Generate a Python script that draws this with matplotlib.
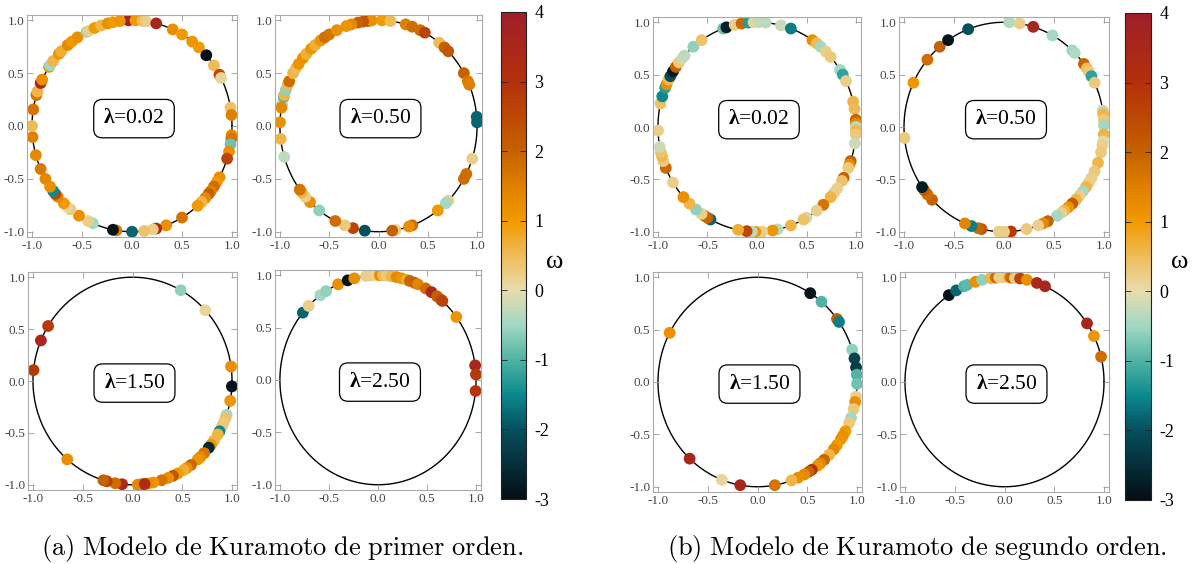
import matplotlib
matplotlib.use('Agg')
import matplotlib.pyplot as plt
import numpy as np
from matplotlib.colors import LinearSegmentedColormap, Normalize

plt.rcParams['axes.unicode_minus'] = False
plt.rcParams['mathtext.fontset'] = 'custom'
plt.rcParams['mathtext.rm'] = 'Liberation Serif'
plt.rcParams['mathtext.bf'] = 'Liberation Serif:bold'

# angles (deg) and natural frequencies omega for each panel
# (a) first order
a1_ang = [92, 88, 84, 82, 76, 66, 60, 53, 48, 42, 35, 29, 27, 10, 6, -5, -7, -10, -14, -18,
          -29, -32, -35, -38, -40, -43, -46, -49, -60, -70, -76, -78, -83, -90, -99, -101,
          -113, -116, -122, -128, -130, -133, -138, -140, -142, -145, -150, -156, -164, -174,
          180, 171, 163, 161, 156, 154, 146, 145, 142, 137, 135, 130, 127, 123, 117, 116,
          112, 108, 104, 101, 97]
a1_w = [3.8, 1, 0.5, 0.2, 3.6, 1.2, 1, 1.1, 1, -3, 0.5, 2.5, 0.1, 0.4, 1.5, 1.3, 1.7, -0.8, 1.2, 2.6,
        1.2, 1, 1.8, 1.5, 2, 1.3, 0.6, 1, 1.7, 1.2, 3.3, 0.2, 0.4, -1.8, 1.6, -2.9,
        -0.5, 0.2, 1.2, 0.3, 0.1, 1, 1.3, 2.5, -1.5, 1.2, 1.3, 1.6, 1.3, 1.5,
        0.5, 1.7, 1.7, 0.6, 3.5, 1.2, 1.2, -0.5, 0.6, 1.1, 0.7, 1.3, 1, 1.2, -0.6, 0.2,
        1, 0.6, 1.2, 1, 1.1]

a2_ang = [96, 94, 99, 102, 106, 109, 88, 83, 74, 70, 65, 62, 52, 48, 45, 30, 25, 23, 5, 2,
          -18, -27, -30, -45, -47, -53, -70, -72, -80, -82, -98, -105, -110, -116, -127, -134,
          -138, -141, -143, -163, -173, 178, 168, 170, 164, 163, 160, 157, 155, 150, 147, 144,
          140, 137, 133, 130, 126, 123, 120, 115]
a2_w = [3.3, 1.2, 2.2, 2, 1.3, 1.1, 1, 0.5, 1.5, 1.8, 1.8, 2.6, 0.5, 2, 2.2, 2, 1.6, 1.5, -1.8, -1.8,
        0.2, 1.8, 1.8, 0.2, -0.5, 1, 1.8, 1.2, 0.2, 2, -2, 2.6, 0.3, 1.8, -0.6, 1.2,
        0.2, 0.6, 1.7, -0.3, 0.6, 1.2, -0.3, 1.3, -1.0, 0.6, -0.6, 0.5, 1.8, 0.6, 0.5, 1.1,
        1.2, 0.7, 1.1, 0.7, 1.1, 1.8, 1.7, 1.2]

a3_ang = [61, 43, 8, -3, -11, -19, -21, -24, -26, -29, -31, -35, -38, -40, -44, -47, -49, -54,
          -57, -59, -63, -66, -69, -73, -78, -81, -84, -85, -87, -83, -96, -100, -105, -107,
          -131, 174, 157, 148]
a3_w = [-0.6, 0.1, 1.2, -2.9, 1.1, -0.5, 0.4, 0.3, 0.3, -1.5, 0.6, 0.6, 1.1, -2.6, 1.7, 1.3, 1.1, 1.9,
        1.2, 0.7, 1.0, 2.2, 1.2, 1.7, 1.1, 1.2, 1.0, 1.8, 1.3, 3.3, 3.4, 1.8, 2.7, 2.0,
        1.2, 2.8, 3.5, 2.8]

a4_ang = [140, 135, 126, 122, 114, 108, 104, 97, 94, 91, 89, 87, 85, 82, 79, 76, 73, 71, 68, 66,
          61, 57, 53, 50, 49, 37, 8, 3, -6]
a4_w = [-1.8, 0.2, -0.5, -0.6, 1.2, -2.9, 1.2, 0.2, 0.2, 0.1, 1.2, 0.5, 0.3, 0.6, 1.3, 1.1, 0.7, 1.9, 2, 1.4,
        1.8, 3.4, 2.0, 2.3, 2.6, 1.1, 3.5, 2.8, 2.9]

# (b) second order
b1_ang = [110, 108, 103, 99, 95, 92, 89, 85, 76, 70, 56, 53, 50, 46, 42, 33, 30, 26, 14, 10, 4, 2, 0,
          -2, -4, -9, -19, -21, -23, -29, -31, -36, -39, -42, -48, -53, -60, -62, -70, -78, -81,
          -87, -91, -93, -95, -96, -101, -118, -120, -122, -124, -128, -133, -138, -148, -157,
          -161, -164, -166, -169, -178, 167, 163, 158, 156, 153, 151, 148, 145, 142, 139, 137,
          130, 124]
b1_w = [-0.8, -2.7, 0.2, 1.9, -1.3, 0.1, -0.3, -0.3, -0.2, -1.6, 1.2, 0.5, -0.5, 0.2, 0.3, -0.5, -1.2, 0.2,
        0.6, 0.5, 2.0, 1.3, -0.3, 0.6, 0.3, -0.2, 2, 1.3, 0.3, 2, 0.4, 0.2, 0.2, 0.6, 1.7, 0.2, -0.2,
        0.4, 0.6, -0.4, 1.1, 0.2, 1.1, -0.3, -0.4, 2.5, 0.7, -1.8, 2, 1.9, 0.2, -0.6, 0.6, 1.2, 0.2,
        1.9, 0.3, 0.6, 0.4, -0.2, 0.2, 0.4, -1.5, -1.3, 1.2, 0.5, -2.0, -2.8, 2, 0.3, -0.2, -0.3,
        -0.6, 0.4]

b2_ang = [87, 81, 73, 61, 47, 45, 37, 34, 32, 29, 25, 9, 7, 4, 1, -4, -8, -10, -14, -20, -25, -29,
          -32, -35, -38, -41, -44, -47, -50, -53, -55, -58, -64, -67, -70, -77, -86, -90, -93,
          -103, -105, -109, -113, -136, -140, -143, -145, -174, 155, 140, 130, 124, 111]
b2_w = [-0.4, 0.2, 3.6, -0.5, -0.5, -0.4, 1.9, 0.5, 0.3, -1.2, 0.3, -0.3, 0.6, 0.3, -0.5, 0.6, -0.1,
        0.2, 0.3, 0.6, 0.3, 0.2, 0.2, 0.6, -0.5, 0.2, 0.6, 2.1, 1.1, 0.6, 0.2, -0.5, 2, 1.3, 0.2,
        0.3, 2.8, 0.2, 0.2, 2.3, 1.9, -1.6, 1.4, 2, 1.8, 2.1, -2.8, 0.3, 1.1, 1.8, 2, -2.9, -2.0]

b3_ang = [58, 50, 37, 35, 18, 13, 8, 4, -1, -8, -11, -15, -20, -23, -28, -31, -33, -37, -40, -44,
          -48, -51, -53, -57, -59, -62, -66, -70, -80, -100, -111, -133, 152]
b3_w = [-2.9, -1.0, 2, -1.6, -0.6, -2.2, -2.3, -1.0, -0.8, 0.2, 1.2, 0.3, -0.5, 0.3, 1.0, 1.2, 1.1,
        1.0, 1.3, 0.6, 1.9, 1.4, 1.1, 3.1, 2.0, 1.3, 1.2, 0.6, 1.7, 3.5, 0.1, 3.6, 1.2]

b4_ang = [124, 119, 114, 112, 107, 103, 98, 95, 93, 91, 87, 86, 84, 81, 77, 71, 66, 34, 26, 14]
b4_w = [-2.9, -1.8, -1.0, -0.9, 1.2, -0.6, 0.6, 1.8, 0.2, 0.2, 1.2, 1.9, 0.3, 2.6, 1.2, 3.4, 3.6,
        3.5, 1.1, 1.8]

lambdas = ['0.02', '0.50', '1.50', '2.50']

cvals = [-3, -2, -1.5, -1, -0.5, 0, 0.5, 1, 1.5, 2, 3, 4]
ccols = ['#050f14', '#06505e', '#0b8a8e', '#50b3a4', '#a2d8c4', '#e8dcae', '#efbc58',
         '#f09a00', '#e07f00', '#c56200', '#b5300a', '#9e1f2a']
norm = Normalize(-3, 4)
cmap = LinearSegmentedColormap.from_list('kur', [((v + 3) / 7, c) for v, c in zip(cvals, ccols)])

W, H = 1195, 564
fig = plt.figure(figsize=(W / 100, H / 100), dpi=100)


def add_ax(l, t, r, b):
    return fig.add_axes([l / W, 1 - b / H, (r - l) / W, (b - t) / H])


boxes = [(27, 15, 237, 237), (275, 15, 482, 237), (28, 272, 237, 490), (275, 270, 481, 490),
         (653, 17, 861, 237), (899, 17, 1109, 237), (653, 272, 862, 492), (900, 272, 1109, 492)]
data = [(a1_ang, a1_w), (a2_ang, a2_w), (a3_ang, a3_w), (a4_ang, a4_w),
        (b1_ang, b1_w), (b2_ang, b2_w), (b3_ang, b3_w), (b4_ang, b4_w)]

t = np.linspace(0, 2 * np.pi, 400)
for i, (bx, (ang, w)) in enumerate(zip(boxes, data)):
    ax = add_ax(*bx)
    ax.plot(np.cos(t), np.sin(t), color='k', lw=1.0, zorder=1)
    th = np.deg2rad(ang)
    ax.scatter(np.cos(th), np.sin(th), c=w, cmap=cmap, norm=norm, s=72, linewidths=0, zorder=2)
    ax.set_xlim(-1.05, 1.05)
    ax.set_ylim(-1.05, 1.05)
    ticks = [-1.0, -0.5, 0.0, 0.5, 1.0]
    ax.set_xticks(ticks)
    ax.set_yticks(ticks)
    ax.set_xticklabels(['%.1f' % v for v in ticks])
    ax.set_yticklabels(['%.1f' % v for v in ticks])
    ax.tick_params(direction='in', length=4, width=0.6, color='#999999', labelsize=9.5,
                   labelcolor='#444444', top=True, right=True, pad=2)
    for lab in ax.get_xticklabels() + ax.get_yticklabels():
        lab.set_family('Liberation Serif')
    for s in ax.spines.values():
        s.set_color('#aaaaaa')
        s.set_linewidth(0.8)
    ty = 0.07 if i % 4 < 2 else -0.02
    ax.text(0.02, ty, r'$\mathbf{λ}$=' + lambdas[i % 4], ha='center', va='center', fontsize=15.5,
            family='Liberation Serif',
            bbox=dict(boxstyle='round,pad=0.45,rounding_size=0.4', fc='white', ec='k', lw=0.9))

for (l, t0, r, b) in [(501, 12, 526, 499), (1125, 13, 1151, 500)]:
    cax = add_ax(l, t0, r, b)
    sm = plt.cm.ScalarMappable(norm=norm, cmap=cmap)
    cb = fig.colorbar(sm, cax=cax, ticks=range(-3, 5))
    cb.outline.set_linewidth(0.8)
    cb.outline.set_edgecolor('#222222')
    cax.tick_params(direction='in', length=4, width=0.6, color='#222222', left=True, right=True,
                    labelsize=13, pad=6)
    for lab in cax.get_yticklabels():
        lab.set_family('Liberation Serif')
    fig.text((r + 20) / W, 1 - 262 / H, 'ω', fontsize=19, family='Liberation Serif',
             ha='left', va='center')

fig.text(282 / W, 1 - 548 / H, r'$\mathrm{(a)\ Modelo\ de\ Kuramoto\ de\ primer\ orden.}$',
         ha='center', va='center', fontsize=19, math_fontfamily='cm')
fig.text(917 / W, 1 - 548 / H, r'$\mathrm{(b)\ Modelo\ de\ Kuramoto\ de\ segundo\ orden.}$',
         ha='center', va='center', fontsize=19, math_fontfamily='cm')

fig.savefig('out.png', dpi=100)
